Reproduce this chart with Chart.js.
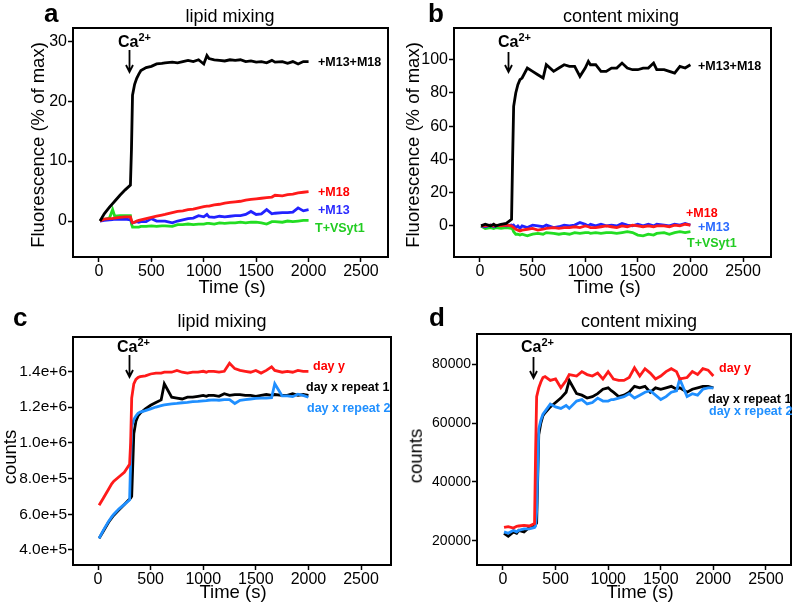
<!DOCTYPE html>
<html>
<head>
<meta charset="utf-8">
<script src="https://cdn.jsdelivr.net/npm/chart.js@4.4.1/dist/chart.umd.min.js"></script>
<style>
    body { margin: 0; background: #fff; }
    #fig { position: relative; width: 800px; height: 609px; overflow: hidden; background: #fff; }
    canvas { position: absolute; }
    .t { position: absolute; white-space: nowrap; line-height: 1; color: #000;
         font-family: "Liberation Sans", Arial, Helvetica, sans-serif; }
    .c { transform: translate(-50%, -50%); }
    .l { transform: translateY(-50%); }
    .rot { transform: translate(-50%, -50%) rotate(-90deg); }
    .letter { font-size: 26px; font-weight: bold; }
    .title { font-size: 18px; }
    .axis { font-size: 18.5px; }
    .ser { font-size: 12.5px; font-weight: bold; }
    .ca { font-size: 16px; font-weight: bold; }
    .ca sup { font-size: 11px; vertical-align: 0; position: relative; top: -6px; }
</style>
</head>
<body>
<div id="fig">
    <canvas id="chartA" width="400" height="300" style="left:0;top:0"></canvas>
    <canvas id="chartB" width="400" height="300" style="left:400px;top:0"></canvas>
    <canvas id="chartC" width="400" height="309" style="left:0;top:300px"></canvas>
    <canvas id="chartD" width="400" height="309" style="left:400px;top:300px"></canvas>

    <!-- panel a -->
    <div class="t letter l" style="left:44px;top:13px">a</div>
    <div class="t title c" style="left:230px;top:16px">lipid mixing</div>
    <div class="t axis rot" style="left:38px;top:145px">Fluorescence (% of max)</div>
    <div class="t axis c" style="left:232px;top:287px">Time (s)</div>
    <div class="t ca l" style="left:118px;top:42px">Ca<sup>2+</sup></div>
    <div class="t ser l" style="left:318px;top:62px;color:#000">+M13+M18</div>
    <div class="t ser l" style="left:318px;top:192px;color:#ff0000">+M18</div>
    <div class="t ser l" style="left:318px;top:210px;color:#2a2aff">+M13</div>
    <div class="t ser l" style="left:315px;top:228px;color:#22cc22">T+VSyt1</div>

    <!-- panel b -->
    <div class="t letter l" style="left:428px;top:13px">b</div>
    <div class="t title c" style="left:621px;top:16px">content mixing</div>
    <div class="t axis rot" style="left:413px;top:145px">Fluorescence (% of max)</div>
    <div class="t axis c" style="left:607px;top:287px">Time (s)</div>
    <div class="t ca l" style="left:498px;top:42px">Ca<sup>2+</sup></div>
    <div class="t ser l" style="left:698px;top:66px;color:#000">+M13+M18</div>
    <div class="t ser l" style="left:686px;top:213px;color:#ff0000">+M18</div>
    <div class="t ser l" style="left:698px;top:227px;color:#2a6aff">+M13</div>
    <div class="t ser l" style="left:687px;top:243px;color:#22cc22">T+VSyt1</div>

    <!-- panel c -->
    <div class="t letter l" style="left:13px;top:317px">c</div>
    <div class="t title c" style="left:222px;top:321px">lipid mixing</div>
    <div class="t axis rot" style="left:10px;top:457px">counts</div>
    <div class="t axis c" style="left:233px;top:592px">Time (s)</div>
    <div class="t ca l" style="left:117px;top:347px">Ca<sup>2+</sup></div>
    <div class="t ser l" style="left:313px;top:366px;color:#ff0000">day y</div>
    <div class="t ser l" style="left:306px;top:387px;color:#000">day x repeat 1</div>
    <div class="t ser l" style="left:307px;top:408px;color:#1f8fff">day x repeat 2</div>

    <!-- panel d -->
    <div class="t letter l" style="left:429px;top:317px">d</div>
    <div class="t title c" style="left:639px;top:321px">content mixing</div>
    <div class="t axis rot" style="left:416px;top:456px">counts</div>
    <div class="t axis c" style="left:640px;top:592px">Time (s)</div>
    <div class="t ca l" style="left:521px;top:347px">Ca<sup>2+</sup></div>
    <div class="t ser l" style="left:719px;top:368px;color:#ff0000">day y</div>
    <div class="t ser l" style="left:708px;top:399px;color:#000">day x repeat 1</div>
    <div class="t ser l" style="left:709px;top:411px;color:#1f8fff">day x repeat 2</div>
</div>

<script>
// Sampling times (s), shared by every trace
const timeSec = [10, 50, 100, 130, 150, 200, 250, 300,
    310, 320, 340, 360, 380,
    400, 450, 500, 550, 600, 630,
    700, 750, 800, 850, 900, 950, 1000, 1030,
    1050, 1100, 1150, 1200, 1250, 1300, 1350, 1400, 1450, 1500, 1550, 1600, 1650, 1680,
    1750, 1800, 1850, 1900, 1950, 2000];

// tick labels
const timeTicks = [0, 500, 1000, 1500, 2000, 2500];
const yTicksA = [0, 10, 20, 30];
const yTicksB = [0, 20, 40, 60, 80, 100];
const yTicksC = [400000, 600000, 800000, 1000000, 1200000, 1400000];
const yTicksD = [20000, 40000, 60000, 80000];

// a: lipid mixing, % of max
const lipidM13M18 = [0, 1.2, 2.3, 2.9, 3.3, 4.3, 5.2, 6.0,
    12, 21, 22.8, 23.8, 24.5,
    25.1, 25.6, 25.8, 26.2, 26.3, 26.4,
    26.5, 26.4, 26.6, 26.8, 26.6, 26.9, 26.2, 27.6,
    27.1, 26.9, 26.8, 26.7, 26.9, 26.8, 26.9, 26.6, 26.7, 26.5, 26.6, 26.4, 26.8, 26.5,
    26.6, 26.3, 26.6, 26.2, 26.6, 26.6];
const lipidM18 = [0, 0.3, 0.4, 0.45, 0.5, 0.6, 0.7, 0.7,
    0.1, -0.3, -0.2, 0, 0.1,
    0.2, 0.4, 0.6, 0.8, 1.0, 1.1,
    1.4, 1.6, 1.7, 1.9, 2.0, 2.2, 2.4, 2.5,
    2.5, 2.7, 2.8, 3.0, 3.1, 3.2, 3.3, 3.5, 3.6, 3.7, 3.8, 3.9, 4.0, 4.3,
    4.2, 4.4, 4.5, 4.7, 4.8, 4.9];
const lipidM13 = [0, 0.1, 0.2, 0.25, 0.3, 0.3, 0.3, 0.2,
    -0.1, -0.3, -0.2, -0.1, -0.2,
    -0.1, -0.1, 0.4, 0, 0, 0,
    -0.3, 0, 0.2, 0.4, 0.5, 0.9, 0.7, 1.1,
    0.7, 0.6, 0.8, 0.7, 0.8, 0.9, 0.9, 1.1, 1.6, 1.1, 1.2, 1.9, 1.2, 1.3,
    1.4, 1.4, 1.5, 2.2, 1.7, 1.9];
const lipidTVSyt1 = [0, 0.3, 0.5, 1.9, 0.8, 0.9, 0.9, 0.9,
    -0.5, -1.0, -1.0, -1.0, -1.0,
    -0.9, -0.9, -0.8, -0.9, -0.8, -0.8,
    -0.9, -0.6, -0.6, -0.5, -0.6, -0.5, -0.5, -0.4,
    -0.4, -0.5, -0.3, -0.4, -0.3, -0.3, -0.2, -0.3, -0.2, -0.2, -0.3, -0.5, -0.1, -0.1,
    -0.2, 0, -0.1, 0, 0.1, 0.1];

// b: content mixing, % of max
const contentM13M18 = [0, 1, 0, 1, 0, 1, 1.5, 4,
    40, 72, 80, 85, 88,
    89, 95, 93, 91, 89, 97,
    93, 95, 97, 96, 96, 90, 95, 99,
    97, 97, 93, 93, 95, 95, 98, 95, 94, 94, 95, 95, 98, 94,
    94, 93, 92, 96, 95, 97];
const contentM18 = [0, 0, 0.5, 0, 0.5, 0, 0.5, 0,
    -0.5, -1, -2, -2.5, -3,
    -2.5, -2, -1.5, -2.5, -2, -1.5,
    -1, -1.5, -1, -1, -0.5, -1, 0, -0.5,
    -1, -1, -0.5, 0, -0.5, -1, 0, -0.5, 0.5, 0, -0.5, 0, -0.5, 0,
    0, -0.5, 0.5, 0, 1, 0.5];
const contentM13 = [0, -0.5, 0.5, -0.5, 0, 0.5, 0, 0.5,
    0, 0.5, -1, 0, -1.5,
    0, -1, 0.5, 0, -0.5, 0.5,
    -1, -0.5, 0.5, 0, 0.5, 2, 1, 0,
    1, 0, 1, 0, 0.5, 0, 1.5, 0.5, 0, 1, 0, 1, 0, 1,
    0.5, 0, 1, 0.5, 1.5, 0.5];
const contentTVSyt1 = [0, -1.5, -1, -1.5, -1, -1.5, -1, -1.5,
    -2, -3.5, -5, -5, -5.5,
    -5, -6, -5, -4.5, -5, -4,
    -4.5, -5, -4.5, -5, -4, -4.5, -4, -4,
    -4.5, -4, -4.5, -4, -4, -4.5, -4, -3.5, -4, -5.5, -6, -5, -5.5, -4.5,
    -4, -5, -4, -3.5, -4, -3.5];

// c: lipid mixing, raw counts
const lipidDayY = [650000, 690000, 740000, 770000, 785000, 810000, 835000, 880000,
    1000000, 1250000, 1330000, 1355000, 1365000,
    1370000, 1375000, 1385000, 1390000, 1390000, 1395000,
    1395000, 1405000, 1395000, 1390000, 1395000, 1395000, 1400000, 1395000,
    1400000, 1400000, 1395000, 1400000, 1445000, 1415000, 1405000, 1400000, 1395000, 1405000, 1390000, 1405000, 1425000, 1405000,
    1395000, 1400000, 1395000, 1405000, 1400000, 1400000];
const lipidDayXRep1 = [465000, 505000, 555000, 580000, 595000, 625000, 655000, 685000,
    690000, 700000, 1050000, 1120000, 1150000,
    1165000, 1190000, 1210000, 1225000, 1240000, 1330000,
    1255000, 1250000, 1245000, 1255000, 1255000, 1260000, 1265000, 1260000,
    1265000, 1265000, 1260000, 1275000, 1265000, 1270000, 1270000, 1265000, 1265000, 1260000, 1265000, 1270000, 1265000, 1270000,
    1265000, 1265000, 1275000, 1265000, 1270000, 1265000];
const lipidDayXRep2 = [465000, 510000, 560000, 585000, 600000, 630000, 655000, 680000,
    900000, 1090000, 1130000, 1150000, 1165000,
    1172000, 1180000, 1190000, 1200000, 1208000, 1212000,
    1218000, 1220000, 1224000, 1226000, 1230000, 1232000, 1235000, 1236000,
    1238000, 1240000, 1238000, 1242000, 1242000, 1220000, 1238000, 1242000, 1245000, 1248000, 1250000, 1250000, 1252000, 1330000,
    1262000, 1262000, 1258000, 1272000, 1265000, 1255000];

// d: content mixing, raw counts
const contentDayY = [24500, 24800, 24300, 24900, 25000, 25200, 25000, 25800,
    50000, 69000, 72000, 74000, 75500,
    75800, 74500, 75000, 72000, 74500, 76500,
    76000, 77500, 76500, 76000, 77000, 75000, 77500, 76000,
    75000, 74500, 74500, 75500, 78800, 76000, 78500, 77000, 75000, 76000, 77500, 78500, 77500, 75000,
    75500, 77500, 76500, 78500, 78000, 76000];
const contentDayXRep1 = [22500, 21500, 23000, 22500, 23500, 23000, 24500, 25000,
    25500, 26000, 56000, 60000, 62500,
    63500, 65500, 67000, 68500, 70500, 74500,
    70000, 69500, 68500, 69000, 70000, 71500, 72000, 71000,
    70500, 69000, 69500, 70500, 72500, 72000, 72500, 70500, 72000, 71500, 72000, 72500, 71500, 72000,
    70500, 71500, 72000, 72500, 72500, 72000];
const contentDayXRep2 = [23000, 22500, 23500, 23000, 23500, 24000, 24000, 24500,
    25000, 30000, 58000, 61000, 63000,
    64000, 66500, 65500, 65000, 66000, 65000,
    67500, 68000, 66500, 67000, 68500, 67500, 67500, 68000,
    68000, 68500, 69000, 70000, 68500, 69500, 70500, 71000, 69500, 68000, 69000, 70500, 71000, 75000,
    69000, 70000, 69500, 71500, 72000, 72000];

const RED = '#ff1a1a';
const BLACK = '#000000';
const BLUE_DARK = '#2222ff';
const GREEN = '#22dd22';
const BLUE_LIGHT = '#1f8fff';
const FONT = '"Liberation Sans", Arial, Helvetica, sans-serif';

/**
 * Frame around the plot area plus the Ca2+ arrow
 */
const framePlugin = {
    id: 'panelFrame',
    afterDraw(chart, args, opts) {
        const { ctx, chartArea: a } = chart;
        ctx.save();
        ctx.strokeStyle = '#000';
        ctx.lineWidth = 2;
        ctx.strokeRect(a.left, a.top, a.right - a.left, a.bottom - a.top);

        // arrow pointing down at the time calcium was added
        const x = Math.round(chart.scales.x.getPixelForValue(opts.caTime)) + 0.5;
        const y0 = a.top + opts.arrow[0];
        const y1 = a.top + opts.arrow[1];
        ctx.lineWidth = 1.8;
        ctx.beginPath();
        ctx.moveTo(x, y0);
        ctx.lineTo(x, y1);
        ctx.moveTo(x - 3.5, y1 - 7);
        ctx.lineTo(x, y1);
        ctx.lineTo(x + 3.5, y1 - 7);
        ctx.stroke();
        ctx.restore();
    }
};

function axisOptions(range, tickValues, fitSize, isX, fmt, fontSize) {
    return {
        type: 'linear',
        min: range[0],
        max: range[1],
        afterBuildTicks: s => { s.ticks = tickValues.map(v => ({ value: v })); },
        afterFit: s => { if (isX) s.height = fitSize; else s.width = fitSize; },
        ticks: {
            color: '#000',
            font: { family: FONT, size: fontSize || 16 },
            padding: isX ? 0 : 1,
            maxRotation: 0,
            autoSkip: false,
            callback: fmt || (v => String(v))
        },
        grid: {
            drawOnChartArea: false,
            drawTicks: true,
            tickLength: 5,
            tickWidth: 1.5,
            tickColor: '#000'
        },
        border: { display: false }
    };
}

/**
 * Build one panel
 */
function createPanel(canvasId, cfg) {
    const canvas = document.getElementById(canvasId);
    const datasets = cfg.series.map(s => ({
        data: timeSec.map((t, i) => ({ x: t, y: s.values[i] })),
        borderColor: s.color,
        borderWidth: 2.8,
        pointRadius: 0,
        tension: 0,
        fill: false
    }));

    return new Chart(canvas, {
        type: 'line',
        data: { datasets },
        options: {
            responsive: false,
            animation: false,
            devicePixelRatio: 1,
            layout: { padding: cfg.padding },
            plugins: {
                legend: { display: false },
                tooltip: { enabled: false },
                panelFrame: { caTime: cfg.caTime, arrow: cfg.arrow }
            },
            scales: {
                x: axisOptions(cfg.xRange, timeTicks, cfg.xHeight, true),
                y: axisOptions(cfg.yRange, cfg.yTicks, cfg.yWidth, false, cfg.yFormat, cfg.yFont)
            }
        },
        plugins: [framePlugin]
    });
}

// first series listed is drawn on top
createPanel('chartA', {
    series: [
        { values: lipidM13M18, color: BLACK },
        { values: lipidM18, color: RED },
        { values: lipidM13, color: BLUE_DARK },
        { values: lipidTVSyt1, color: GREEN }
    ],
    xRange: [-248, 2758], yRange: [-6, 32.2], yTicks: yTicksA,
    padding: { left: 0, top: 28, right: 12, bottom: 0 }, yWidth: 73, xHeight: 43,
    caTime: 289, arrow: [22, 44]
});

createPanel('chartB', {
    series: [
        { values: contentM13M18, color: BLACK },
        { values: contentM18, color: RED },
        { values: contentM13, color: BLUE_DARK },
        { values: contentTVSyt1, color: GREEN }
    ],
    xRange: [-247, 2766], yRange: [-18.7, 119.1], yTicks: yTicksB,
    padding: { left: 0, top: 28, right: 29, bottom: 0 }, yWidth: 54, xHeight: 43,
    caTime: 269, arrow: [24, 44]
});

createPanel('chartC', {
    series: [
        { values: lipidDayY, color: RED },
        { values: lipidDayXRep2, color: BLUE_LIGHT },
        { values: lipidDayXRep1, color: BLACK }
    ],
    xRange: [-238, 2785], yRange: [316000, 1592000], yTicks: yTicksC,
    yFormat: v => v.toExponential(1), yFont: 15.5,
    padding: { left: 0, top: 37, right: 9, bottom: 0 }, yWidth: 73, xHeight: 44,
    caTime: 295, arrow: [18, 40]
});

createPanel('chartD', {
    series: [
        { values: contentDayY, color: RED },
        { values: contentDayXRep2, color: BLUE_LIGHT },
        { values: contentDayXRep1, color: BLACK }
    ],
    xRange: [-247, 2738], yRange: [11730, 90300], yTicks: yTicksD, yFont: 14,
    padding: { left: 0, top: 34, right: 9, bottom: 0 }, yWidth: 77, xHeight: 44,
    caTime: 282, arrow: [23, 44]
});
</script>
</body>
</html>
